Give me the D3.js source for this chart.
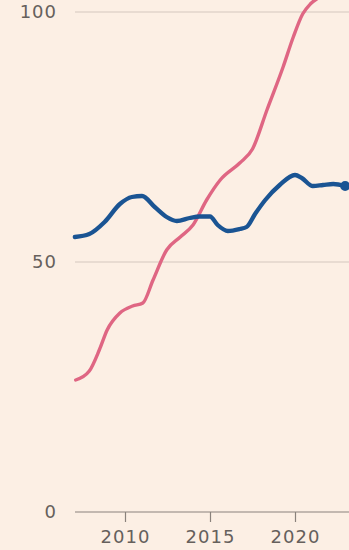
<!DOCTYPE html>
<html>
<head>
<meta charset="utf-8">
<script src="https://cdn.jsdelivr.net/npm/d3@7"></script>
<style>
html,body{margin:0;padding:0;background:#fcefe4;}
svg{display:block;}
</style>
</head>
<body>
<svg id="chart" width="349" height="550"></svg>
<script>
// Data (year as decimal, value)
const pinkYears = [2007.1, 2007.9, 2008.5, 2008.95, 2009.7, 2010.45, 2011.05, 2011.65, 2012.45, 2013.25, 2014.0, 2014.8, 2015.6, 2016.75, 2017.5, 2018.35, 2019.3, 2019.9, 2020.45, 2020.9, 2021.4, 2022.1, 2023.2];
const pinkValues = [26.4, 28.2, 32.5, 36.4, 39.8, 41.2, 41.8, 46.4, 52.4, 55.0, 57.4, 62.4, 66.4, 69.8, 72.6, 80.4, 89.0, 95.0, 99.6, 101.6, 102.9, 104.3, 105.5];
const blueYears = [2007.05, 2007.9, 2008.8, 2009.7, 2010.4, 2011.0, 2011.75, 2012.45, 2013.05, 2013.8, 2014.4, 2015.0, 2015.45, 2016.05, 2016.75, 2017.15, 2017.65, 2018.25, 2019.1, 2020.0, 2020.4, 2021.05, 2021.65, 2022.25, 2022.95];
const blueValues = [55.0, 55.6, 58.0, 61.6, 63.0, 63.2, 61.0, 59.0, 58.2, 58.8, 59.1, 59.1, 57.4, 56.2, 56.6, 57.0, 59.6, 62.4, 65.4, 67.4, 66.8, 65.2, 65.4, 65.6, 65.2];
const yTicks = [0, 50, 100];
const xTicks = [2010, 2015, 2020];

const svg = d3.select("#chart");
const W = 349, H = 550;
svg.append("rect").attr("width", W).attr("height", H).attr("fill", "#fcefe4");

const x = d3.scaleLinear().domain([2007, 2023]).range([74, 346]);
const y = d3.scaleLinear().domain([0, 100]).range([512, 12]);

const textColor = "#66605c";
const font = "DejaVu Sans, sans-serif";

// gridlines
svg.append("g").selectAll("line").data(yTicks.filter(d => d !== 0)).join("line")
  .attr("x1", 75).attr("x2", W)
  .attr("y1", d => y(d)).attr("y2", d => y(d))
  .attr("stroke", "#d4c8bd").attr("stroke-width", 1.2);

// y labels
svg.append("g").selectAll("text").data(yTicks).join("text")
  .attr("x", 57).attr("y", d => y(d))
  .attr("dy", "0.36em")
  .attr("text-anchor", "end")
  .attr("fill", textColor)
  .attr("font-family", font)
  .attr("font-size", 18)
  .attr("letter-spacing", 1)
  .text(d => d);

// x axis
const xAxis = d3.axisBottom(x).tickValues(xTicks).tickFormat(d3.format("d")).tickSize(10).tickPadding(8);
const gx = svg.append("g").attr("transform", `translate(0,${y(0)})`).call(xAxis);
gx.select(".domain").remove();
gx.selectAll(".tick line").attr("stroke", "#8a827c").attr("stroke-width", 1.2);
gx.selectAll(".tick text").attr("fill", textColor).attr("font-family", font).attr("font-size", 18).attr("letter-spacing", 1);
svg.append("line").attr("x1", 75).attr("x2", W).attr("y1", y(0)).attr("y2", y(0))
  .attr("stroke", "#8a827c").attr("stroke-width", 1.2);

const line = d3.line().x(d => x(d[0])).y(d => y(d[1])).curve(d3.curveMonotoneX);

const pink = pinkYears.map((v, i) => [v, pinkValues[i]]);
const blue = blueYears.map((v, i) => [v, blueValues[i]]);

svg.append("path").datum(pink).attr("d", line)
  .attr("fill", "none").attr("stroke", "#df6683").attr("stroke-width", 3.4)
  .attr("stroke-linecap", "round").attr("stroke-linejoin", "round");

svg.append("path").datum(blue).attr("d", line)
  .attr("fill", "none").attr("stroke", "#1a5493").attr("stroke-width", 4.3)
  .attr("stroke-linecap", "round").attr("stroke-linejoin", "round");

const last = blue[blue.length - 1];
svg.append("circle").attr("cx", x(last[0])).attr("cy", y(last[1])).attr("r", 5)
  .attr("fill", "#1a5493");
</script>
</body>
</html>
